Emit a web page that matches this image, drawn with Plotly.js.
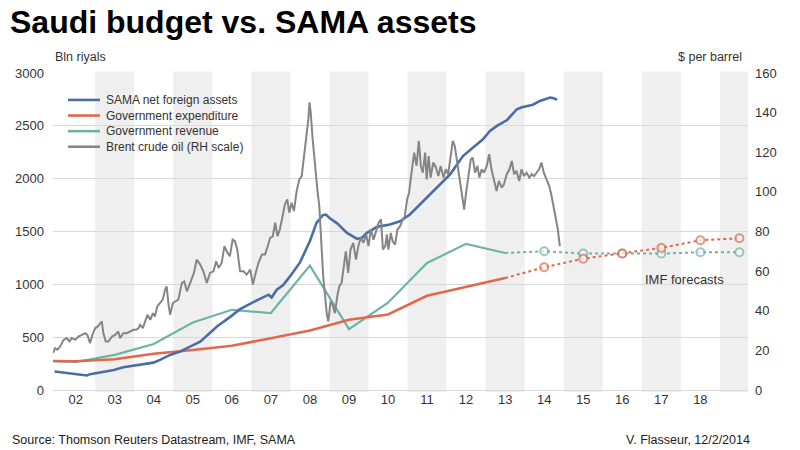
<!DOCTYPE html>
<html>
<head>
<meta charset="utf-8">
<script src="https://cdn.plot.ly/plotly-3.0.1.min.js"></script>
<style>html,body{margin:0;padding:0;background:#fff;}#chart{width:800px;height:450px;}</style>
</head>
<body>
<div id="chart"></div>
<script>
// ---- data ----
var annualYears = [2001,2002,2003,2004,2005,2006,2007,2008,2009,2010,2011,2012,2013];
var revenue     = [280,265,332,435,639,759,728,1177,576,826,1202,1383,1297];
var expenditure = [275,272,291,342,378,418,490,563,664,715,892,975,1060];

var forecastYears       = [2013,2014,2015,2016,2017,2018,2019];
var revenueForecast     = [1297,1313,1291,1291,1291,1303,1303];
var expenditureForecast = [1060,1161,1243,1291,1345,1417,1436];

var samaT = [2001.96,2002.36,2002.49,2002.70,2002.79,2002.87,2003.13,2003.38,2003.48,2003.72,2003.98,2004.23,2004.49,2004.66,2004.84,2004.92,2005.17,2005.35,2005.52,2005.69,2006.03,2006.12,2006.45,2006.71,2007.04,2007.30,2007.44,2007.52,2007.65,2007.81,2007.99,2008.25,2008.37,2008.50,2008.67,2008.83,2008.91,2009.01,2009.19,2009.45,2009.71,2009.83,2009.96,2010.22,2010.55,2010.81,2011.06,2011.32,2011.57,2011.83,2012.09,2012.42,2012.60,2012.78,2012.93,2013.11,2013.29,2013.55,2013.71,2013.80,2013.93,2014.06,2014.21,2014.39,2014.65,2014.75,2014.83];
var samaV = [175,158,155,142,138,150,165,185,190,215,228,245,259,285,316,332,363,400,427,458,576,601,690,765,830,880,902,875,949,990,1075,1210,1310,1410,1582,1655,1660,1625,1580,1487,1430,1440,1487,1544,1566,1597,1661,1756,1851,1946,2041,2214,2270,2325,2373,2451,2500,2555,2620,2657,2675,2689,2700,2736,2768,2760,2746];

var oilT = [2001.92,2001.97,2002.03,2002.10,2002.19,2002.27,2002.34,2002.40,2002.49,2002.57,2002.66,2002.74,2002.80,2002.87,2002.93,2003.00,2003.07,2003.13,2003.17,2003.21,2003.27,2003.34,2003.43,2003.51,2003.59,2003.64,2003.72,2003.81,2003.89,2003.98,2004.05,2004.11,2004.15,2004.22,2004.28,2004.34,2004.41,2004.48,2004.53,2004.59,2004.66,2004.73,2004.79,2004.83,2004.88,2004.92,2004.99,2005.05,2005.13,2005.22,2005.28,2005.35,2005.41,2005.47,2005.53,2005.60,2005.69,2005.77,2005.86,2005.94,2006.03,2006.10,2006.16,2006.24,2006.31,2006.39,2006.45,2006.52,2006.58,2006.64,2006.71,2006.80,2006.88,2006.97,2007.04,2007.09,2007.18,2007.27,2007.35,2007.42,2007.48,2007.55,2007.61,2007.67,2007.73,2007.80,2007.86,2007.92,2007.97,2008.03,2008.09,2008.16,2008.23,2008.29,2008.35,2008.40,2008.46,2008.49,2008.52,2008.57,2008.63,2008.69,2008.74,2008.80,2008.84,2008.89,2008.93,2008.97,2009.03,2009.08,2009.14,2009.20,2009.25,2009.31,2009.37,2009.42,2009.48,2009.54,2009.61,2009.68,2009.74,2009.80,2009.87,2009.94,2010.00,2010.06,2010.13,2010.20,2010.26,2010.32,2010.37,2010.43,2010.47,2010.51,2010.57,2010.62,2010.68,2010.74,2010.81,2010.88,2010.93,2010.99,2011.04,2011.08,2011.13,2011.17,2011.23,2011.29,2011.34,2011.39,2011.45,2011.49,2011.54,2011.59,2011.66,2011.73,2011.79,2011.85,2011.92,2011.98,2012.04,2012.09,2012.16,2012.21,2012.27,2012.32,2012.39,2012.45,2012.50,2012.56,2012.62,2012.67,2012.73,2012.79,2012.84,2012.90,2012.96,2013.03,2013.09,2013.15,2013.21,2013.28,2013.34,2013.41,2013.47,2013.54,2013.61,2013.67,2013.73,2013.79,2013.86,2013.92,2013.98,2014.05,2014.12,2014.18,2014.24,2014.31,2014.37,2014.43,2014.49,2014.56,2014.63,2014.69,2014.75,2014.80,2014.85,2014.90];
var oilV = [18.6,21.1,20.3,21.9,25.3,26.2,24.5,26.2,25.3,27.0,27.8,28.7,27.8,23.6,27.8,31.2,32.1,33.8,34.6,28.7,24.5,24.5,27.0,27.8,29.5,26.2,28.7,28.7,29.5,30.4,30.4,31.2,32.9,31.2,34.6,38.0,35.4,38.8,37.1,42.2,43.9,45.6,50.6,52.3,43.0,38.0,43.9,44.7,45.6,54.0,54.8,49.8,53.2,56.6,59.1,65.8,63.3,59.9,54.0,59.1,59.9,65.0,61.6,64.1,72.6,69.2,67.5,75.9,75.1,70.9,59.9,59.9,58.2,60.8,53.2,57.4,64.1,68.4,68.4,72.6,76.8,77.6,84.4,77.6,81.0,87.7,93.7,96.2,89.5,94.5,90.3,100.4,106.3,108.0,118.1,128.2,136.7,145.2,140.1,126.6,113.1,101.3,92.8,72.0,57.4,47.2,38.8,34.6,44.7,43.0,38.8,47.2,52.3,54.0,62.4,70.0,59.1,70.9,74.3,65.8,72.6,76.8,74.3,78.5,72.6,81.0,75.9,81.0,84.4,86.1,70.9,72.6,78.5,70.9,79.3,75.1,73.4,81.0,82.7,86.1,87.7,96.2,99.6,106.3,114.8,119.8,113.1,125.7,113.1,109.7,119.8,106.3,118.1,107.2,114.8,112.2,108.0,113.1,107.2,111.4,108.9,116.4,125.7,123.2,114.8,107.2,99.6,91.1,99.6,108.0,116.4,117.3,109.7,113.1,107.2,111.4,109.7,113.1,119.0,111.4,105.5,100.4,105.5,102.1,103.8,108.9,111.4,115.6,108.9,110.6,105.5,111.4,108.0,109.7,107.2,108.9,108.0,109.7,111.4,114.8,109.7,106.3,102.9,97.9,91.1,86.1,81.0,72.6];

var tickYears  = [2002,2003,2004,2005,2006,2007,2008,2009,2010,2011,2012,2013,2014,2015,2016,2017,2018];
var tickLabels = ["02","03","04","05","06","07","08","09","10","11","12","13","14","15","16","17","18"];
var shadedYears = [2003,2005,2007,2009,2011,2013,2015,2017,2019];

var seriesNames  = ["SAMA net foreign assets","Government expenditure","Government revenue","Brent crude oil (RH scale)"];
var seriesColors = ["#4a6ea3","#e0694c","#6db4a6","#858585"];

// ---- styling ----
var FONT = "Liberation Sans, Arial, Helvetica, sans-serif";
var TXT = "#333333";
var mid = function(y){ return y + 0.5; };

var cBlue = seriesColors[0], cRed = seriesColors[1], cTeal = seriesColors[2], cGrey = seriesColors[3];
var fcMarkerSizes = forecastYears.map(function(y, i){ return i === 0 ? 0 : 8; });

var traces = [
  {x: annualYears.map(mid), y: revenue, type: "scatter", mode: "lines", name: seriesNames[2],
   line: {color: cTeal, width: 2.2}, yaxis: "y", showlegend: false, hoverinfo: "skip"},
  {x: forecastYears.map(mid), y: revenueForecast, type: "scatter", mode: "lines+markers", name: seriesNames[2] + " (IMF)",
   line: {color: cTeal, width: 2, dash: "dot"},
   marker: {symbol: "circle", size: fcMarkerSizes, color: "#ffffff", line: {width: 2, color: cTeal}},
   yaxis: "y", showlegend: false, hoverinfo: "skip"},
  {x: annualYears.map(mid), y: expenditure, type: "scatter", mode: "lines", name: seriesNames[1],
   line: {color: cRed, width: 2.5}, yaxis: "y", showlegend: false, hoverinfo: "skip"},
  {x: forecastYears.map(mid), y: expenditureForecast, type: "scatter", mode: "lines+markers", name: seriesNames[1] + " (IMF)",
   line: {color: cRed, width: 2, dash: "dot"},
   marker: {symbol: "circle", size: fcMarkerSizes, color: "#ffffff", line: {width: 2, color: cRed}},
   yaxis: "y", showlegend: false, hoverinfo: "skip"},
  {x: samaT, y: samaV, type: "scatter", mode: "lines", name: seriesNames[0],
   line: {color: cBlue, width: 2.6}, yaxis: "y", showlegend: false, hoverinfo: "skip"},
  {x: oilT, y: oilV, type: "scatter", mode: "lines", name: seriesNames[3],
   line: {color: cGrey, width: 2}, yaxis: "y2", showlegend: false, hoverinfo: "skip"}
];

var shapes = shadedYears.map(function(y){
  return {type: "rect", xref: "x", yref: "paper", x0: y, x1: y + 1, y0: -0.006, y1: 1.005,
          fillcolor: "#efefef", line: {width: 0}, layer: "below"};
});

// compact legend: one multi-line text block plus line samples at each line
var LEG_FS = 12;
var plotH = 450 - 73 - 60;
var lineStepPaper = (LEG_FS * 1.3) / plotH;
var legendTop = 0.915;
seriesNames.forEach(function(n, i){
  var yy = legendTop - i * lineStepPaper;
  shapes.push({type: "line", xref: "paper", yref: "paper", x0: 0.0216, x1: 0.0676, y0: yy, y1: yy,
               line: {color: seriesColors[i], width: 2.6}});
});
var annotations = [
  {xref: "paper", yref: "paper", x: 0.0748, y: legendTop + lineStepPaper / 2, xanchor: "left", yanchor: "top",
   align: "left", borderpad: 0, text: seriesNames.join("<br>"), showarrow: false,
   font: {family: FONT, size: LEG_FS, color: TXT}},
  {xref: "paper", yref: "paper", x: 0, y: 1, yshift: 16, xanchor: "left", yanchor: "middle",
   text: "Bln riyals", showarrow: false, font: {family: FONT, size: 12.5, color: TXT}},
  {xref: "paper", yref: "paper", x: 1, y: 1, xshift: -4, yshift: 16, xanchor: "right", yanchor: "middle",
   text: "$ per barrel", showarrow: false, font: {family: FONT, size: 12.5, color: TXT}},
  {xref: "x", yref: "y", x: 2017.03, y: 1045, xanchor: "left", yanchor: "middle",
   text: "IMF forecasts", showarrow: false, font: {family: FONT, size: 13, color: TXT}},
  {xref: "paper", yref: "paper", x: -0.062, y: -0.158, xanchor: "left", yanchor: "middle",
   text: "Source: Thomson Reuters Datastream, IMF, SAMA", showarrow: false, font: {family: FONT, size: 12.5, color: "#222"}},
  {xref: "paper", yref: "paper", x: 1.006, y: -0.158, xanchor: "right", yanchor: "middle",
   text: "V. Flasseur, 12/2/2014", showarrow: false, font: {family: FONT, size: 12.5, color: "#222"}}
];

var layout = {
  width: 800, height: 450,
  margin: {l: 53, r: 52, t: 73, b: 60},
  paper_bgcolor: "#ffffff", plot_bgcolor: "#ffffff",
  font: {family: FONT, size: 13, color: TXT},
  title: {text: "<b>Saudi budget vs. SAMA assets</b>", x: 0.0125, xref: "container", xanchor: "left",
          y: 0.951, yref: "container", yanchor: "middle",
          font: {family: FONT, size: 32, color: "#000"}},
  showlegend: false,
  xaxis: {range: [2001.92, 2019.72], tickmode: "array", tickvals: tickYears.map(mid), ticktext: tickLabels,
          showgrid: false, zeroline: false, showline: false, ticks: "", tickfont: {family: FONT, size: 13, color: TXT}},
  yaxis: {range: [0, 3000], dtick: 500, showgrid: true, gridcolor: "#d9d9d9", gridwidth: 1,
          zeroline: true, zerolinecolor: "#d9d9d9", zerolinewidth: 1, showline: false, ticks: "",
          ticklabelstandoff: 8, tickfont: {family: FONT, size: 13, color: TXT}},
  yaxis2: {range: [0, 160], dtick: 20, overlaying: "y", side: "right", showgrid: false, zeroline: false,
           showline: false, ticks: "", ticklabelstandoff: 6, tickfont: {family: FONT, size: 13, color: TXT}},
  shapes: shapes,
  annotations: annotations
};

Plotly.newPlot("chart", traces, layout, {staticPlot: true, displayModeBar: false});
</script>
</body>
</html>
